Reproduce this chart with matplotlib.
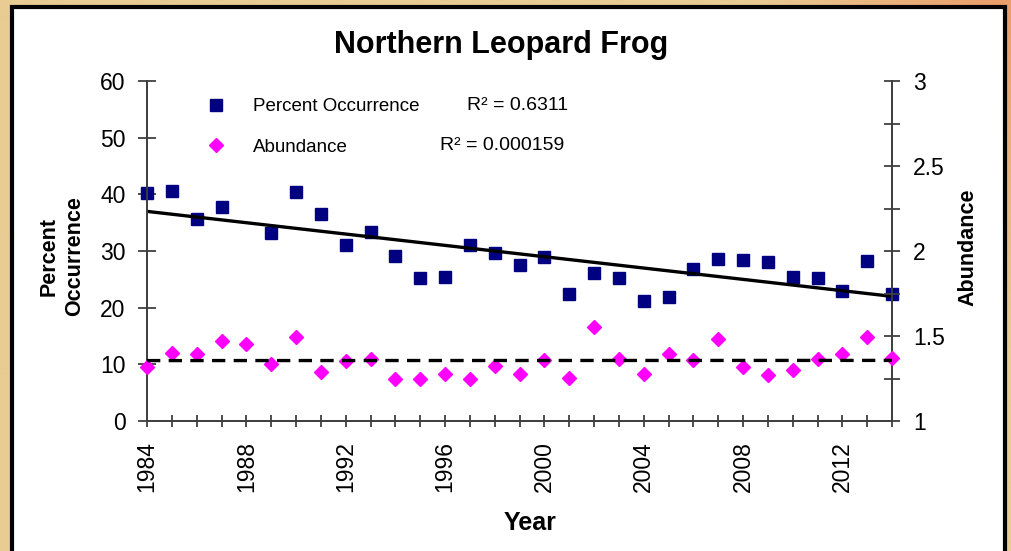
import numpy as np
import matplotlib
matplotlib.use("Agg")
import matplotlib.pyplot as plt
from matplotlib.lines import Line2D
from matplotlib.patches import Rectangle
from matplotlib.ticker import MultipleLocator

plt.rcParams['font.family'] = ['Liberation Sans', 'DejaVu Sans']

# data
years = list(range(1984, 2015))
pct_years = [y for y in years if y != 1988]  # no value for 1988
pct = [40.3, 40.6, 35.7, 37.8, 33.1, 40.4, 36.6, 31.1, 33.4, 29.2, 25.2, 25.5,
       31.1, 29.7, 27.5, 28.9, 22.4, 26.2, 25.3, 21.2, 21.9, 26.9, 28.6, 28.4,
       28.0, 25.5, 25.2, 22.9, 28.2, 22.5]
abund = [1.316, 1.402, 1.396, 1.472, 1.453, 1.335, 1.496, 1.288, 1.355, 1.363,
         1.245, 1.245, 1.276, 1.245, 1.324, 1.276, 1.359, 1.251, 1.555, 1.363,
         1.275, 1.394, 1.359, 1.48, 1.32, 1.273, 1.30, 1.363, 1.394, 1.492, 1.369]
r2_pct = "R² = 0.6311"
r2_abund = "R² = 0.000159"

W, H = 1011, 551
def fx(px):
    return px / W
def fy(py):
    return 1 - py / H

fig = plt.figure(figsize=(W / 100, H / 100), dpi=100)

# textured-ish backdrop: tan with orange towards the upper right
bg = fig.add_axes([0, 0, 1, 1], zorder=-10)
gx, gy = np.meshgrid(np.linspace(0, 1, 40), np.linspace(0, 1, 20))
w = np.clip((gx - 0.75) / 0.25, 0, 1) * np.clip(1 - gy * 1.6, 0, 1)
tan = np.array([0.91, 0.80, 0.58])
orange = np.array([0.92, 0.62, 0.42])
img = tan[None, None, :] * (1 - w[..., None]) + orange[None, None, :] * w[..., None]
bg.imshow(img, aspect='auto', extent=[0, 1, 0, 1], interpolation='bilinear')
bg.axis('off')

fig.add_artist(Rectangle((fx(12), -0.05), fx(1005) - fx(12), fy(7) + 0.05,
                         transform=fig.transFigure, facecolor='white',
                         edgecolor='black', linewidth=3, zorder=-5))

ax = fig.add_axes([fx(147), fy(421), fx(892) - fx(147), fy(81) - fy(421)])
ax2 = ax.twinx()

axis_col = '#404040'
navy = '#000080'
magenta = '#FF00FF'

ax.plot(pct_years, pct, linestyle='none', marker='s', ms=9, color=navy,
        clip_on=False, zorder=3)
ax2.plot(years, abund, linestyle='none', marker='D', ms=7, color=magenta,
         clip_on=False, zorder=3)

# linear trend lines
xs = np.array([1984, 2014])
k, b = np.polyfit(pct_years, pct, 1)
ax.plot(xs, k * xs + b, color='black', lw=2.4, zorder=4)
k2, b2 = np.polyfit(years, abund, 1)
ax2.plot(xs, k2 * xs + b2, color='black', lw=2.4, dashes=(4, 2.5), zorder=4)

ax.set_xlim(1984, 2014)
ax.set_ylim(0, 60)
ax2.set_ylim(1, 3)
ax.set_xticks(range(1984, 2015, 4))
ax.xaxis.set_minor_locator(MultipleLocator(1))
ax.set_yticks(range(0, 61, 10))
ax2.set_yticks([1, 1.5, 2, 2.5, 3])
ax2.set_yticklabels(['1', '1.5', '2', '2.5', '3'])
ax2.yaxis.set_minor_locator(MultipleLocator(0.25))
for lab in ax.get_xticklabels():
    lab.set_rotation(90)

for a in (ax, ax2):
    a.set_facecolor('none')
    a.spines['top'].set_visible(False)
    for s in ('left', 'right', 'bottom'):
        a.spines[s].set_color(axis_col)
        a.spines[s].set_linewidth(1.3)
ax.set_zorder(2)
ax2.set_zorder(3)

ax.tick_params(axis='x', which='both', direction='inout', length=9, width=1.3,
               color=axis_col, labelsize=16.5, pad=10)
ax.tick_params(axis='y', direction='inout', length=13, width=1.3,
               color=axis_col, labelsize=16.5, pad=9)
ax2.tick_params(axis='y', which='both', direction='inout', length=11, width=1.3,
                color=axis_col, labelsize=16.5, pad=9.5)

fig.text(fx(501), fy(45), "Northern Leopard Frog", ha='center', va='center',
         fontsize=22, fontweight='bold')
fig.text(fx(530), fy(523), "Year", ha='center', va='center',
         fontsize=18, fontweight='bold')
fig.text(fx(62), fy(256), "Percent\nOccurrence", ha='center', va='center',
         rotation=90, fontsize=15.5, fontweight='bold', linespacing=1.3)
fig.text(fx(968), fy(247), "Abundance", ha='center', va='center',
         rotation=90, fontsize=15.5, fontweight='bold')

handles = [Line2D([], [], linestyle='none', marker='s', ms=9, color=navy),
           Line2D([], [], linestyle='none', marker='D', ms=7, color=magenta)]
ax2.legend(handles, ["Percent Occurrence", "Abundance"], loc='upper left',
           bbox_to_anchor=(fx(207), fy(98)), bbox_transform=fig.transFigure,
           frameon=False, fontsize=13.5, handlelength=1.0, handletextpad=1.45,
           labelspacing=1.25, borderpad=0, borderaxespad=0)
fig.text(fx(467), fy(106), r2_pct, ha='left', va='center', fontsize=14)
fig.text(fx(440), fy(146), r2_abund, ha='left', va='center', fontsize=14)

fig.savefig("out.png", dpi=100)
